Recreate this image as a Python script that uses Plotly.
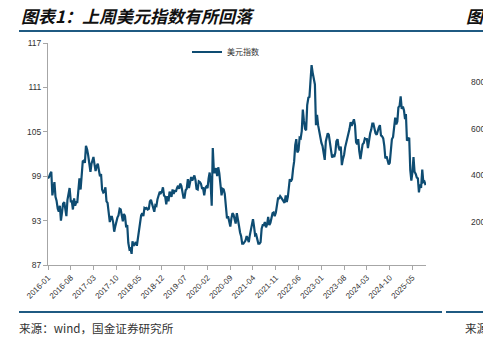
import plotly.graph_objects as go

# US dollar index, three readings per month (1st, 11th, 21st)
dxy_2016 = [98.7, 98.9, 99.3, 99.6, 96.4, 97.4, 98.2, 96.2, 95.7, 94.6, 94.2, 95.0,
            93.0, 94.1, 95.3, 95.5, 94.6, 93.6, 95.8, 96.4, 97.4, 95.6, 95.6, 94.5,
            96.0, 95.0, 95.5, 95.5, 97.2, 98.7, 97.2, 98.9, 101.0, 101.1, 100.8, 103.1]
dxy_2017 = [102.6, 101.8, 100.4, 99.6, 100.7, 101.2, 101.6, 100.6, 99.7, 100.4, 100.7, 99.8,
            99.0, 99.3, 97.2, 96.8, 96.9, 97.5, 95.6, 95.4, 93.9, 92.8, 93.5, 93.5,
            92.8, 91.5, 92.2, 93.1, 93.4, 93.7, 94.6, 94.5, 93.5, 92.9, 93.9, 93.6]
dxy_2018 = [92.1, 92.4, 90.0, 89.1, 89.2, 88.5, 90.2, 89.6, 89.8, 90.1, 89.6, 90.8,
            91.6, 93.1, 93.7, 94.0, 93.6, 94.7, 94.6, 94.7, 94.5, 94.6, 95.6, 95.8,
            95.1, 94.8, 94.2, 95.1, 95.0, 95.9, 96.4, 96.9, 96.7, 96.9, 97.5, 96.4]
dxy_2019 = [96.2, 95.2, 96.3, 95.6, 96.9, 96.5, 96.2, 97.2, 96.6, 97.1, 96.9, 97.4,
            97.7, 97.3, 98.0, 97.7, 96.7, 96.1, 96.1, 97.1, 97.3, 98.6, 97.4, 98.2,
            98.9, 98.4, 98.7, 99.1, 98.5, 97.3, 97.2, 98.3, 98.2, 98.0, 97.4, 97.4]
dxy_2020 = [96.4, 97.4, 97.6, 97.4, 98.7, 99.5, 98.1, 95.0, 102.8, 99.5, 99.5, 100.1,
            99.0, 100.2, 99.4, 97.8, 96.4, 97.3, 97.2, 96.6, 94.9, 93.3, 93.6, 92.9,
            92.2, 93.3, 94.0, 93.8, 93.1, 92.6, 94.0, 92.7, 92.3, 91.4, 90.9, 89.9]
dxy_2021 = [89.9, 90.1, 90.3, 90.9, 90.5, 90.1, 90.9, 91.6, 92.6, 93.2, 92.2, 91.0,
            91.1, 90.2, 89.9, 89.9, 90.1, 91.9, 92.4, 92.4, 92.8, 92.1, 92.5, 93.5,
            92.4, 92.7, 93.3, 94.0, 94.1, 93.6, 94.1, 95.2, 96.0, 96.0, 96.3, 96.1]
dxy_2022 = [95.9, 95.6, 95.4, 96.4, 95.5, 96.2, 97.4, 98.6, 98.3, 98.6, 100.0, 101.0,
            103.2, 104.0, 102.2, 102.5, 104.2, 104.1, 105.1, 108.0, 106.5, 105.4, 105.2, 108.6,
            109.6, 109.7, 111.9, 114.0, 113.0, 111.9, 111.4, 105.9, 107.3, 105.9, 104.9, 104.3]
dxy_2023 = [103.5, 103.1, 101.9, 101.2, 103.7, 104.4, 104.8, 104.6, 103.3, 102.5, 101.5, 101.9,
            101.6, 102.2, 103.7, 104.0, 102.9, 102.5, 103.0, 100.5, 101.3, 101.9, 102.9, 103.5,
            104.2, 104.6, 105.4, 106.3, 105.8, 106.2, 106.7, 105.9, 103.6, 103.3, 104.0, 102.4]
dxy_2024 = [101.3, 102.3, 103.3, 103.5, 104.1, 104.0, 104.0, 102.8, 103.9, 104.8, 105.3, 106.1,
            106.1, 105.3, 104.8, 104.6, 105.2, 105.6, 105.9, 104.5, 104.4, 104.1, 103.1, 101.4,
            101.7, 101.2, 100.6, 100.8, 102.9, 104.0, 104.3, 105.4, 106.9, 106.0, 106.4, 108.3]
dxy_2025 = [108.5, 109.8, 108.1, 108.4, 107.9, 106.7, 107.4, 103.8, 104.1, 104.2, 99.8, 98.4,
            99.5, 101.6, 99.6, 99.3, 98.8, 98.7, 96.8, 97.9, 97.4, 99.9, 98.2, 98.3, 97.8]

dxy = dxy_2016 + dxy_2017 + dxy_2018 + dxy_2019 + dxy_2020 + dxy_2021 + dxy_2022 + dxy_2023 + dxy_2024 + dxy_2025
dates = [f"{2016 + i // 36}-{(i % 36) // 3 + 1:02d}-{[1, 11, 21][i % 3]:02d}" for i in range(len(dxy))]

x_ticks = ["2016-01", "2016-08", "2017-03", "2017-10", "2018-05", "2018-12", "2019-07",
           "2020-02", "2020-09", "2021-04", "2021-11", "2022-06", "2023-01", "2023-08",
           "2024-03", "2024-10", "2025-05"]
y_ticks = [87, 93, 99, 105, 111, 117]

series_name = "美元指数"
title_text = "图表1：上周美元指数有所回落"
source_text = "来源：wind，国金证券研究所"
neighbour_title = "图表2"
neighbour_source = "来源"
neighbour_ticks = ["800", "600", "400", "200"]

W, H = 483, 341
L, R, T, B = 48, 57, 43, 76
PW, PH = W - L - R, H - T - B
LINE = "#0E4C72"
RULE = "#1F5A82"
CJK = "Noto Sans CJK SC"

fig = go.Figure()
fig.add_trace(go.Scatter(x=dates, y=dxy, mode="lines", name=series_name,
                         line=dict(color=LINE, width=2.2)))

fig.update_layout(
    width=W, height=H,
    margin=dict(l=L, r=R, t=T, b=B, pad=0),
    paper_bgcolor="white", plot_bgcolor="white",
    showlegend=True,
    legend=dict(x=(187 - L) / PW, y=(H - B - 52) / PH,
                xanchor="left", yanchor="middle", bgcolor="rgba(0,0,0,0)",
                font=dict(family=CJK, size=8, color="#333333"), borderwidth=0),
    xaxis=dict(type="date", range=["2016-01-01", "2025-09-05"],
               tickvals=x_ticks, ticktext=x_ticks, tickangle=-45,
               showgrid=False, zeroline=False, showline=True, linecolor="#A6A6A6",
               linewidth=1, ticks="outside", ticklen=4, tickcolor="#A6A6A6",
               tickfont=dict(family="Arial", size=8, color="#333333")),
    yaxis=dict(range=[87, 117], tickvals=y_ticks, showgrid=False, zeroline=False,
               showline=True, linecolor="#A6A6A6", linewidth=1,
               ticks="outside", ticklen=4, tickcolor="#A6A6A6",
               tickfont=dict(family="Arial", size=8.5, color="#333333")),
)

def fx(p):
    return (p - L) / PW

def fy(p):
    return ((H - p) - B) / PH

def rule(x0, x1, y):
    return dict(type="line", xref="paper", yref="paper", x0=fx(x0), x1=fx(x1),
                y0=fy(y), y1=fy(y), line=dict(color=RULE, width=2))

fig.update_layout(shapes=[rule(19, 483, 31), rule(19, 442, 312), rule(446, 483, 312)])

def ann(text, x, y, size, color="#333333", family=CJK):
    return dict(text=text, xref="paper", yref="paper", x=fx(x), y=fy(y),
                xanchor="left", yanchor="middle", showarrow=False,
                font=dict(family=family, size=size, color=color))

annotations = [
    ann("<b><i>" + title_text + "</i></b>", 19, 16, 17, color="#111111"),
    ann("<b><i>" + neighbour_title + "</i></b>", 464, 16, 17, color="#111111"),
    ann(source_text, 17, 328, 11.6, color="#333333"),
    ann(neighbour_source, 463, 328, 11.6, color="#333333"),
]
for t, yy in zip(neighbour_ticks, [82, 129, 175, 222]):
    annotations.append(ann(t, 469, yy, 8.5, family="Arial"))
fig.update_layout(annotations=annotations)

fig.write_html("out.html")
